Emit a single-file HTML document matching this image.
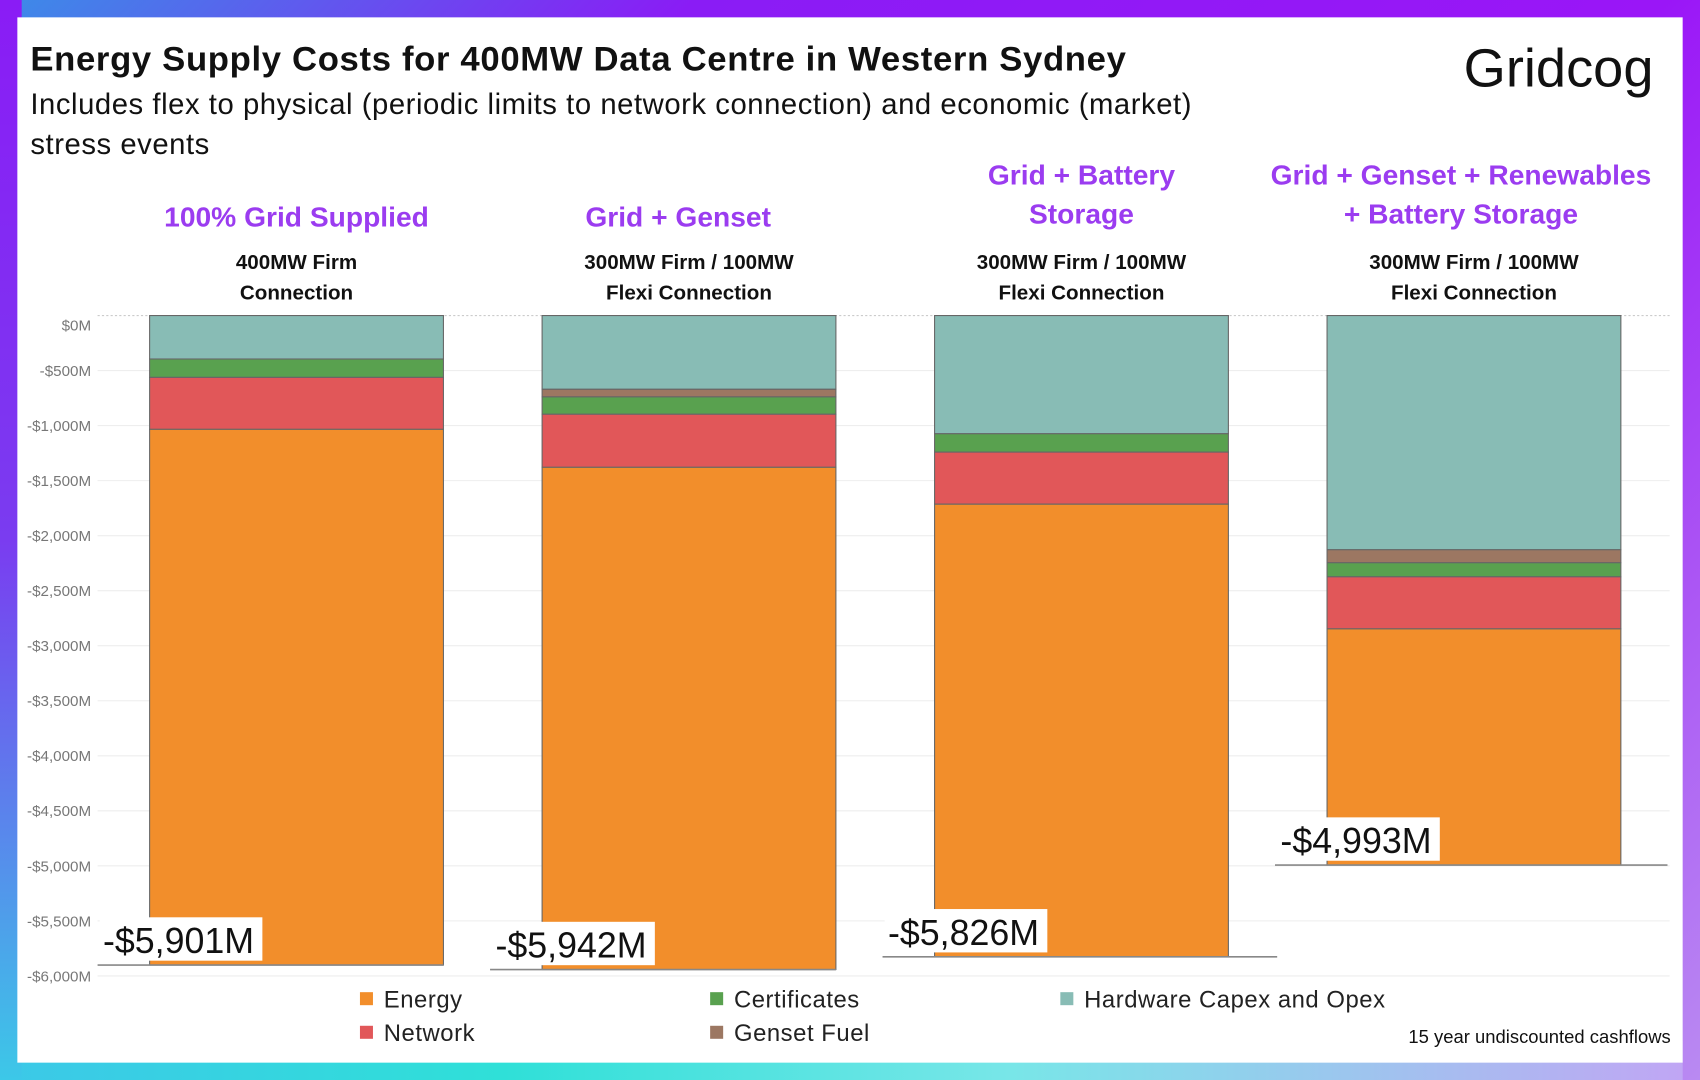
<!DOCTYPE html>
<html><head><meta charset="utf-8">
<style>
html,body{margin:0;padding:0;width:1700px;height:1080px;overflow:hidden;background:#fff}
#wrap{position:absolute;left:0;top:0;width:1568px;height:996px;transform:scale(1.08419,1.08434);transform-origin:0 0;
background:linear-gradient(135deg,#3c8ce8 0%,#8a1cf5 25%,#9a16f7 60%,#b98af2 100%);font-family:"Liberation Sans",sans-serif}
#frame-bottom{position:absolute;left:0;top:960px;width:1552px;height:36px;background:linear-gradient(90deg,#3cc8e8 0%,#2fe0d8 30%,#78e6e8 60%,#c0a6f4 100%)}
#frame-left{position:absolute;left:0;top:0;width:20px;height:996px;background:linear-gradient(180deg,#8a1cf5 0%,#7a3cf0 50%,#3cc8e8 100%)}
#inner{position:absolute;left:16px;top:16px;width:1536px;height:964px;background:#fff}
.t{position:absolute;white-space:nowrap}
</style></head><body>
<div id="wrap">
<div id="frame-bottom"></div>
<div id="frame-left"></div>
<div id="inner"></div>
<div class="t" style="left:28px;top:36px;font-size:32px;font-weight:bold;color:#111;letter-spacing:0.6px">Energy Supply Costs for 400MW Data Centre in Western Sydney</div>
<div class="t" style="left:28px;top:78px;font-size:27px;color:#111;line-height:37px;white-space:normal;width:1100px;letter-spacing:0.5px">Includes flex to physical (periodic limits to network connection) and economic (market) stress events</div>
<div class="t" style="left:1350px;top:34px;font-size:50px;color:#111;letter-spacing:0px">Gridcog</div>
<svg id="chart" width="1568" height="996" style="position:absolute;left:0;top:0"></svg>
<div class="t" style="right:27px;top:947px;font-size:17px;color:#111">15 year undiscounted cashflows</div>
</div>
<script>
const categories=["100% Grid Supplied","Grid + Genset","Grid + Battery|Storage","Grid + Genset + Renewables|+ Battery Storage"];
const connections=["400MW Firm|Connection","300MW Firm / 100MW|Flexi Connection","300MW Firm / 100MW|Flexi Connection","300MW Firm / 100MW|Flexi Connection"];
const seriesNames=["Hardware Capex and Opex","Genset Fuel","Certificates","Network","Energy"];
const hardware=[395,670,1074,2128];
const gensetFuel=[0,69,0,118];
const certificates=[167,158,167,128];
const network=[472,482,473,473];
const energy=[4867,4563,4112,2146];
const totals=["-$5,901M","-$5,942M","-$5,826M","-$4,993M"];
const yTicks=[0,500,1000,1500,2000,2500,3000,3500,4000,4500,5000,5500,6000];
const yTickLabels=["$0M","-$500M","-$1,000M","-$1,500M","-$2,000M","-$2,500M","-$3,000M","-$3,500M","-$4,000M","-$4,500M","-$5,000M","-$5,500M","-$6,000M"];
const colors=["#88bcb5","#9c7762","#59a14f","#e15759","#f28e2b"];
const NS="http://www.w3.org/2000/svg";
const svg=document.getElementById('chart');
const y=v=>291+v*(609/6000);
const x=i=>138+i*362;
const bw=271;
function mk(t,a,p){const e=document.createElementNS(NS,t);for(const k in a)e.setAttribute(k,a[k]);(p||svg).appendChild(e);return e;}
yTicks.forEach((v,i)=>{
  const g=mk('line',{x1:90,x2:1540,y1:y(v),y2:y(v),stroke:i==0?'#ccc':'#eee','stroke-width':1,'stroke-dasharray':i==0?'2,2':''});
  
  
  const t=mk('text',{x:84,y:y(v)+(i==0?14:5),'text-anchor':'end','font-size':14,fill:'#777'});
  t.textContent=yTickLabels[i];
  
  
});
const series=[hardware,gensetFuel,certificates,network,energy];
categories.forEach((c,i)=>{
  let acc=0;
  series.forEach((s,k)=>{
    const v=s[i]; if(!v)return;
    const r=mk('rect',{x:x(i),y:y(acc),width:bw,height:y(acc+v)-y(acc),fill:colors[k],stroke:'#666','stroke-width':1});
    
    
    acc+=v;
  });
  const cx=x(i)+bw/2;
  const lines=c.split('|');
  const top=lines.length>1?170:209;
  lines.forEach((l,j)=>{
    const t=mk('text',{x:i==1?cx-10:(i==3?cx-12:cx),y:top+j*36,'text-anchor':'middle','font-size':26,'font-weight':'bold',fill:'#9b3cf0'});
    t.textContent=l;
    
    
  });
  connections[i].split('|').forEach((l,j)=>{
    const t=mk('text',{x:cx,y:248+j*28,'text-anchor':'middle','font-size':19,'font-weight':'bold',fill:'#111'});
    t.textContent=l;
    
    
  });
  const yb=y(acc);
  const lx=x(i)-46;
  const ln=mk('line',{x1:lx-2,x2:x(i)+bw+(i==2?45:i==3?43:0),y1:yb,y2:yb,stroke:'#888','stroke-width':1.5});
  
  
  const bx=mk('rect',{x:lx,y:yb-44,width:150,height:40,fill:'#fff'});
  
  
  const tt=mk('text',{x:lx+3,y:yb-11,'font-size':33,fill:'#111'});
  tt.textContent=totals[i];
  
  
});
const legendOrder=[4,2,0,3,1];
const legendPos=[[332,921],[655,921],[978,921],[332,952],[655,952]];
legendOrder.forEach((k,j)=>{
  const [lx,ly]=legendPos[j];
  const r=mk('rect',{x:lx,y:ly-6,width:12,height:12,fill:colors[k]});
  
  
  const t=mk('text',{x:lx+22,y:ly+8,'font-size':22,fill:'#222','letter-spacing':'0.5'});
  t.textContent=seriesNames[k];
  
  
});
</script>
</body></html>
